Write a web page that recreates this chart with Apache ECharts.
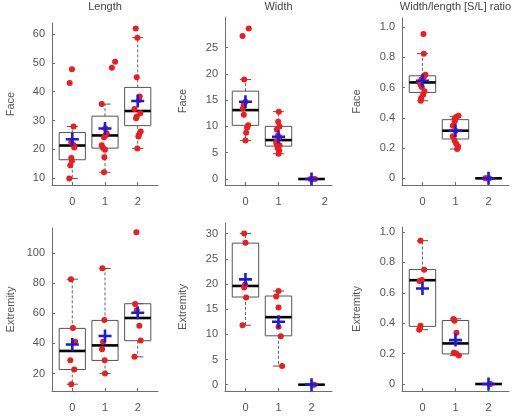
<!DOCTYPE html>
<html>
<head>
<meta charset="utf-8">
<script src="https://cdn.jsdelivr.net/npm/echarts@6/dist/echarts.min.js"></script>
<style>
html, body { margin: 0; padding: 0; background: #fff; }
#main { width: 516px; height: 418px; }
</style>
</head>
<body>
<div id="main"></div>
<script>
// x categories (groups) and tick labels
var xTicks = [0, 1, 2];
var titles = ['Length', 'Width', 'Width/length [S/L] ratio'];
var rowNames = ['Face', 'Extremity'];

var yTicksLength = [10, 20, 30, 40, 50, 60];
var yTicksWidthFace = [0, 5, 10, 15, 20, 25];
var yTicksRatio = [0, 0.2, 0.4, 0.6, 0.8, 1.0];
var yTicksLengthExt = [20, 40, 60, 80, 100];
var yTicksWidthExt = [0, 5, 10, 15, 20, 25, 30];

// ---- Length / Face ----
var lenFaceVals = [
	[47.8, 43.0, 27.9, 22.4, 21.5, 20.6, 17.0, 16.0, 14.4, 9.8],
	[50.4, 48.3, 35.7, 27.3, 25.6, 24.8, 24.2, 21.4, 20.4, 19.8, 17.2, 12.0],
	[62.0, 58.8, 45.0, 38.3, 37.1, 34.0, 32.5, 31.4, 30.8, 26.2, 25.0, 24.4, 20.3]
];
var lenFaceJit = [
	[-0.01, -0.08, 0.04, -0.03, 0.04, 0.06, -0.03, -0.01, -0.06, -0.09],
	[0.31, 0.21, -0.10, 0.01, 0.05, 0.01, -0.03, -0.10, -0.06, 0, -0.02, -0.03],
	[-0.06, -0.01, -0.03, 0.06, 0.04, -0.10, 0.08, -0.03, -0.05, 0.09, 0.04, 0.02, -0.01]
];
var lenFaceBox = [[9.8, 16.35, 21.3, 25.8, 27.9], [12.0, 20.4, 24.8, 31.5, 35.7], [20.3, 28.2, 33.3, 41.5, 58.8]];
var lenFaceMean = [23.5, 27.2, 36.8];

// ---- Width / Face ----
var widFaceVals = [
	[28.6, 27.2, 18.9, 14.7, 14.1, 13.4, 12.2, 10.2, 9.8, 8.8, 7.3],
	[12.8, 10.9, 10.0, 9.4, 8.2, 8.0, 7.1, 6.7, 6.4, 5.9, 5.4, 4.8],
	[0, 0, 0]
];
var widFaceJit = [
	[0.10, -0.09, -0.04, 0, -0.05, -0.08, -0.05, 0.08, 0.05, 0.02, 0],
	[0.01, -0.01, 0.03, -0.05, -0.02, 0.02, -0.07, -0.06, 0.03, -0.03, 0.02, 0],
	[0.10, 0.05, -0.03]
];
var widFaceBox = [[7.3, 10.2, 13.1, 16.7, 18.9], [4.8, 6.25, 7.4, 10.0, 12.8], [0, 0, 0, 0, 0]];
var widFaceMean = [14.7, 8.0, 0];

// ---- Ratio / Face ----
var ratFaceVals = [
	[0.954, 0.824, 0.685, 0.670, 0.655, 0.634, 0.619, 0.604, 0.575, 0.553, 0.531, 0.513],
	[0.414, 0.405, 0.392, 0.377, 0.348, 0.315, 0.278, 0.251, 0.229, 0.211, 0.194],
	[0, 0, 0]
];
var ratFaceJit = [
	[0.03, 0.04, 0.09, 0.04, -0.03, -0.09, -0.05, -0.02, 0.06, 0.02, -0.04, -0.05],
	[0.09, 0.02, -0.03, -0.02, -0.08, 0, -0.08, -0.03, 0.02, 0.08, 0.05],
	[-0.10, -0.05, 0.02]
];
var ratFaceBox = [[0.513, 0.568, 0.634, 0.678, 0.824], [0.194, 0.26, 0.315, 0.388, 0.41], [0, 0, 0, 0, 0]];
var ratFaceMean = [0.645, 0.315, 0];

// ---- Length / Extremity ----
var lenExtVals = [
	[82.7, 50.2, 41.1, 28.9, 22.7, 12.9],
	[90.0, 55.6, 41.1, 36.2, 28.9, 20.0],
	[113.8, 66.2, 62.0, 51.8, 42.0, 31.1]
];
var lenExtJit = [
	[-0.04, 0.02, 0.09, -0.06, 0.06, -0.03],
	[-0.08, -0.02, -0.06, -0.09, -0.01, 0],
	[-0.04, -0.08, -0.03, 0.05, 0.09, -0.10]
];
var lenExtBox = [[12.9, 22.7, 35.0, 50.0, 82.7], [20.0, 28.7, 38.7, 55.3, 89.8], [31.1, 41.8, 56.9, 66.4, 66.4]];
var lenExtMean = [39.3, 44.9, 60.4];

// ---- Width / Extremity ----
var widExtVals = [
	[30.0, 28.2, 19.9, 19.3, 17.3, 11.8],
	[18.6, 17.5, 15.3, 11.5, 9.6, 3.7],
	[0, 0]
];
var widExtJit = [
	[-0.04, 0, -0.01, -0.04, 0.02, -0.09],
	[0, -0.07, 0, 0, 0.07, 0.11],
	[0.04, 0.08]
];
var widExtBox = [[11.8, 17.4, 19.6, 28.1, 30.0], [3.7, 9.7, 13.4, 17.6, 18.6], [0, 0, 0, 0, 0]];
var widExtMean = [20.9, 12.5, 0];

// ---- Ratio / Extremity ----
var ratExtVals = [
	[0.943, 0.751, 0.685, 0.678, 0.383, 0.357],
	[0.427, 0.416, 0.337, 0.205, 0.200, 0.187],
	[0, 0]
];
var ratExtJit = [
	[-0.06, 0.05, -0.02, -0.09, -0.06, -0.10],
	[-0.06, -0.03, 0.03, -0.05, 0.02, 0.10],
	[0.03, 0.06]
];
var ratExtBox = [[0.357, 0.379, 0.683, 0.753, 0.943], [0.187, 0.198, 0.267, 0.418, 0.429], [0, 0, 0, 0, 0]];
var ratExtMean = [0.628, 0.289, 0];

// layout of the six plot regions (pixels) and axis ranges
var panels = [
	{ vals: lenFaceVals, jit: lenFaceJit, box: lenFaceBox, mean: lenFaceMean, yTicks: yTicksLength, xLab: [0, 1, 2],
		left: 52, top: 23, width: 106, height: 162, yMin: 7.57, yMax: 63.9, name: rowNames[0], gap: 36 },
	{ vals: widFaceVals, jit: widFaceJit, box: widFaceBox, mean: widFaceMean, yTicks: yTicksWidthFace, xLab: [0, 1, 2.4],
		left: 225, top: 17, width: 107, height: 168, yMin: -1.14, yMax: 30.8, name: rowNames[0], gap: 37 },
	{ vals: ratFaceVals, jit: ratFaceJit, box: ratFaceBox, mean: ratFaceMean, yTicks: yTicksRatio, xLab: [0, 1, 2],
		left: 402, top: 18, width: 107, height: 167, yMin: -0.044, yMax: 1.06, name: rowNames[0], gap: 40 },
	{ vals: lenExtVals, jit: lenExtJit, box: lenExtBox, mean: lenExtMean, yTicks: yTicksLengthExt, xLab: [0, 1, 2],
		left: 52, top: 228, width: 106, height: 163, yMin: 8.4, yMax: 116.7, name: rowNames[1], gap: 36 },
	{ vals: widExtVals, jit: widExtJit, box: widExtBox, mean: widExtMean, yTicks: yTicksWidthExt, xLab: [0, 1, 2],
		left: 225, top: 223, width: 107, height: 168, yMin: -1.26, yMax: 32.1, name: rowNames[1], gap: 37 },
	{ vals: ratExtVals, jit: ratExtJit, box: ratExtBox, mean: ratExtMean, yTicks: yTicksRatio, xLab: [0, 1, 2],
		left: 402, top: 227, width: 107, height: 164, yMin: -0.046, yMax: 1.033, name: rowNames[1], gap: 40 }
];

var axisGray = '#6e6e6e';
var textGray = '#555';
var fontFam = 'Liberation Sans, Arial, sans-serif';
var plusPath = 'path://M4,0h2v4h4v2h-4v4h-2v-4h-4v-2h4z';

// box + whiskers drawn R style
function renderBox(params, api) {
	var x = api.value(0);
	var lo = api.value(1), q1 = api.value(2), md = api.value(3), q3 = api.value(4), hi = api.value(5);
	var a = api.coord([x - 0.4, q3]);
	var b = api.coord([x + 0.4, q1]);
	var pHi = api.coord([x, hi]), pQ3 = api.coord([x, q3]), pQ1 = api.coord([x, q1]), pLo = api.coord([x, lo]);
	var m1 = api.coord([x - 0.4, md]), m2 = api.coord([x + 0.4, md]);
	var c1 = api.coord([x - 0.17, hi]), c2 = api.coord([x + 0.17, hi]);
	var d1 = api.coord([x - 0.17, lo]), d2 = api.coord([x + 0.17, lo]);
	var dash = { stroke: '#666', lineWidth: 1, lineDash: [3, 2], fill: null };
	var solid = { stroke: '#555', lineWidth: 1, fill: null };
	var children = [];
	if (hi > q3) children.push({ type: 'line', shape: { x1: pQ3[0], y1: pQ3[1], x2: pHi[0], y2: pHi[1] }, style: dash });
	if (lo < q1) children.push({ type: 'line', shape: { x1: pQ1[0], y1: pQ1[1], x2: pLo[0], y2: pLo[1] }, style: dash });
	children.push({ type: 'line', shape: { x1: c1[0], y1: c1[1], x2: c2[0], y2: c2[1] }, style: solid });
	children.push({ type: 'line', shape: { x1: d1[0], y1: d1[1], x2: d2[0], y2: d2[1] }, style: solid });
	children.push({ type: 'rect', shape: { x: a[0], y: a[1], width: b[0] - a[0], height: b[1] - a[1] }, style: { stroke: '#555', lineWidth: 1, fill: 'none' } });
	children.push({ type: 'line', shape: { x1: m1[0], y1: m1[1], x2: m2[0], y2: m2[1] }, style: { stroke: '#000', lineWidth: 2.6 } });
	return { type: 'group', children: children };
}

var grids = [], xAxes = [], yAxes = [], series = [], graphics = [];

panels.forEach(function(p, k) {
	grids.push({ left: p.left, top: p.top, width: p.width, height: p.height });
	xAxes.push({
		type: 'value', gridIndex: k, min: -0.62, max: 2.62,
		splitLine: { show: false },
		axisLine: { onZero: false, lineStyle: { color: axisGray, width: 1 } },
		axisTick: { inside: true, length: 3, customValues: xTicks, lineStyle: { color: axisGray } },
		axisLabel: { customValues: p.xLab, margin: 11, color: textGray, fontSize: 11, fontFamily: fontFam,
			formatter: function(v) { return String(Math.round(v)); } }
	});
	yAxes.push({
		type: 'value', gridIndex: k, min: p.yMin, max: p.yMax,
		name: p.name, nameLocation: 'middle', nameGap: p.gap,
		nameTextStyle: { color: textGray, fontSize: 11, fontFamily: fontFam },
		splitLine: { show: false },
		axisLine: { onZero: false, lineStyle: { color: axisGray, width: 1 } },
		axisTick: { inside: true, length: 3, customValues: p.yTicks, lineStyle: { color: axisGray } },
		axisLabel: { customValues: p.yTicks, margin: 7, color: textGray, fontSize: 11, fontFamily: fontFam,
			formatter: function(v) {
				if (p.yTicks === yTicksRatio) return v === 0 ? '0' : v.toFixed(1);
				return String(v);
			} }
	});

	var boxData = p.box.map(function(b, i) { return [xTicks[i]].concat(b); });
	series.push({
		type: 'custom', xAxisIndex: k, yAxisIndex: k, z: 2, clip: false,
		renderItem: renderBox,
		encode: { x: 0, y: [1, 2, 3, 4, 5] },
		data: boxData
	});

	var pts = [];
	p.vals.forEach(function(list, i) {
		list.forEach(function(v, j) { pts.push([xTicks[i] + p.jit[i][j], v]); });
	});
	series.push({
		type: 'scatter', xAxisIndex: k, yAxisIndex: k, z: 3,
		symbol: 'circle', symbolSize: 6,
		itemStyle: { color: '#ee1c1c', opacity: 1 },
		data: pts
	});

	series.push({
		type: 'scatter', xAxisIndex: k, yAxisIndex: k, z: 4,
		symbol: plusPath, symbolSize: 13,
		itemStyle: { color: '#1a1ae6', opacity: 1 },
		data: p.mean.map(function(m, i) { return [xTicks[i], m]; })
	});

	if (k < 3) {
		graphics.push({
			type: 'text', x: p.left + p.width / 2, y: 1,
			style: { text: titles[k], fill: '#444', font: '11px ' + fontFam, textAlign: 'center' }
		});
	}
});

var myChart = echarts.init(document.getElementById('main'), null, { renderer: 'canvas' });
var option = {
	animation: false,
	backgroundColor: '#fff',
	grid: grids,
	xAxis: xAxes,
	yAxis: yAxes,
	graphic: graphics,
	series: series
};
myChart.setOption(option);
</script>
</body>
</html>
